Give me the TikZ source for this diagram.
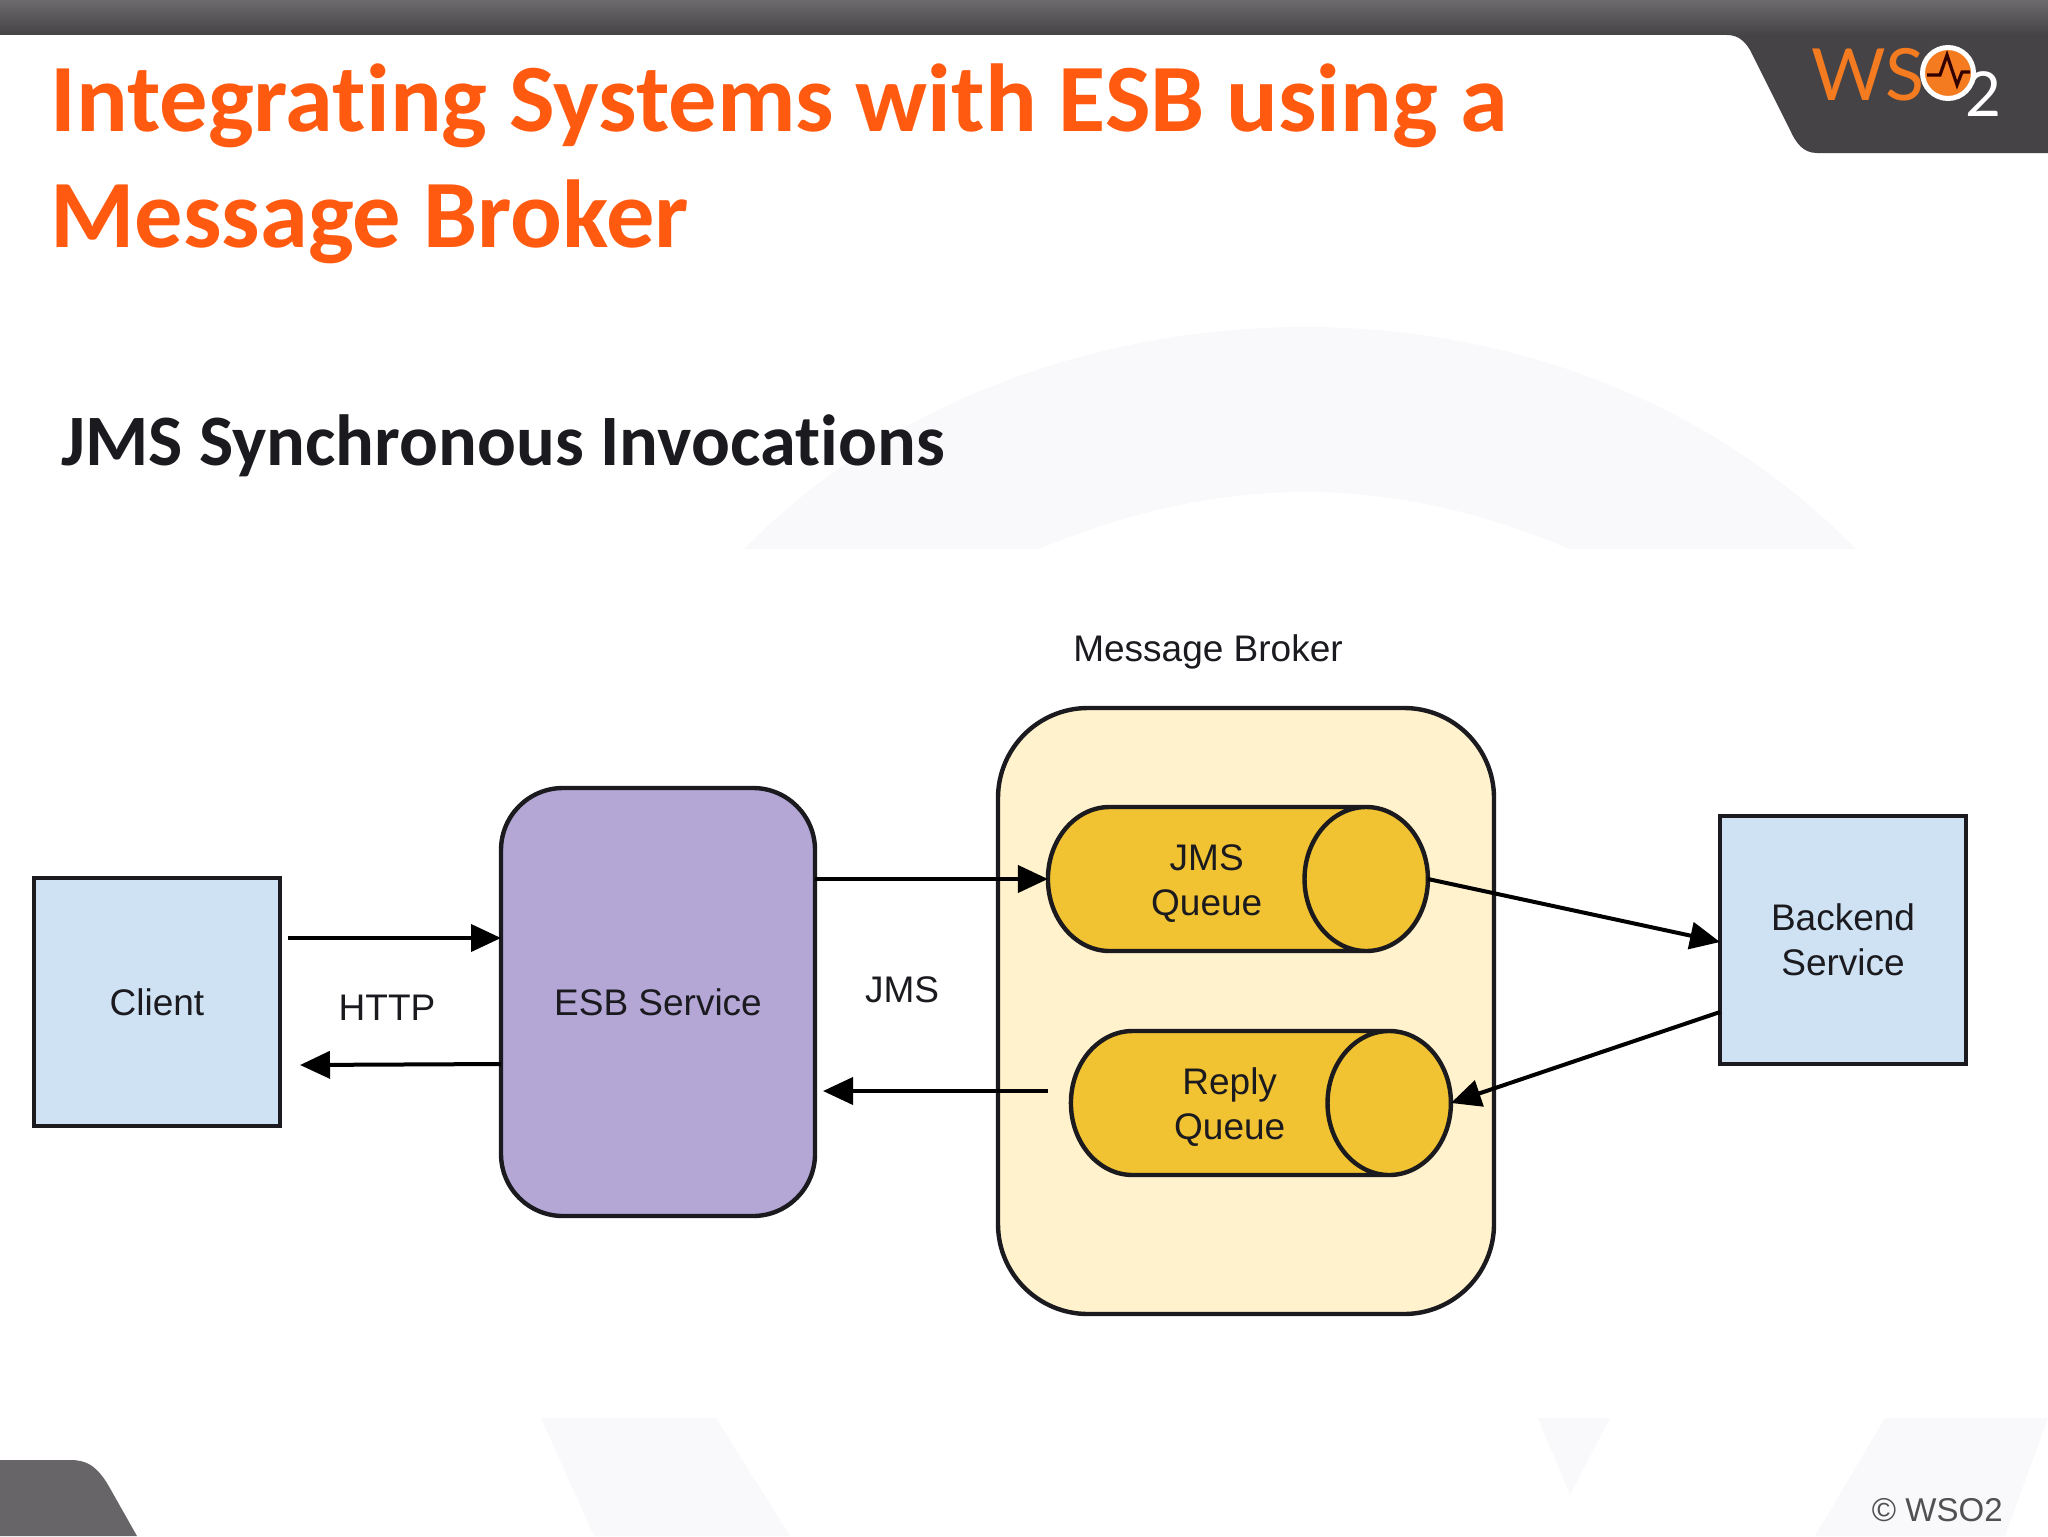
\documentclass[tikz,border=0pt]{standalone}
\usepackage{fontspec}
\setmainfont{Liberation Sans}
\newfontfamily\slidefont[Ligatures=NoCommon]{Carlito}
\newfontfamily\logofont{Lato}
\usetikzlibrary{arrows.meta,shapes.geometric}
\definecolor{barDark}{HTML}{454346}
\definecolor{barTop}{HTML}{6C6A6C}
\definecolor{footGray}{HTML}{676567}
\definecolor{markGray}{HTML}{F9F8FA}
\definecolor{titleOrange}{HTML}{FF5A10}
\definecolor{logoOrange}{HTML}{F47B20}
\definecolor{inkDark}{HTML}{1A1A1F}
\definecolor{boxBlue}{HTML}{CFE2F3}
\definecolor{esbPurple}{HTML}{B4A7D6}
\definecolor{brokerCream}{HTML}{FFF2CC}
\definecolor{queueYellow}{HTML}{F1C232}
\newcommand{\queuetext}[2]{\rule{0pt}{17.5pt}\hspace*{13.7pt}#1\\\hspace*{13.7pt}#2}
\tikzset{
    lineblock/.style={draw=inkDark, line width=2.2pt, outer sep=0pt, align=center, font=\fontsize{18.5}{22.5}\selectfont, text=inkDark},
    service/.style={lineblock, rectangle, fill=boxBlue, minimum width=123pt, minimum height=124pt},
    rounded/.style={lineblock, rectangle, rounded corners=#1},
    queue/.style={lineblock, cylinder, aspect=1.23, cylinder uses custom fill,
        cylinder body fill=queueYellow, cylinder end fill=queueYellow,
        minimum width=72pt, minimum height=190pt},
    flow/.style={draw=black, line width=2pt, -{Triangle[length=15pt, width=13.5pt]}},
    tag/.style={text=inkDark, font=\fontsize{18.5}{22.5}\selectfont},
}
\begin{document}
\begin{tikzpicture}[x=0.5pt, y=-0.5pt]
    \useasboundingbox (0,0) rectangle (2048,1536);
    % Watermark
    \fill [markGray] (744,549) .. controls (890,400) and (1100,327) .. (1306,327)
        .. controls (1510,327) and (1710,400) .. (1856,549) -- (1569,549)
        .. controls (1490,515) and (1400,492) .. (1306,492)
        .. controls (1210,492) and (1120,515) .. (1039,549) -- cycle;
    \fill [markGray] (541,1418) -- (716,1418) -- (790,1536) -- (594,1536) -- cycle;
    \fill [markGray] (1538,1418) -- (1610,1418) -- (1570,1495) -- cycle;
    \fill [markGray] (1885,1418) -- (2048,1418) -- (2005,1536) -- (1815,1536) -- cycle;
    % Slide frame
    \fill [barDark] (0,0) -- (2048,0) -- (2048,153) -- (1817,153)
        .. controls (1803,153) and (1796,143) .. (1790,130) -- (1750,50)
        .. controls (1744,40) and (1737,35) .. (1727,35) -- (0,35) -- cycle;
    \shade [top color=barTop, bottom color=barDark] (0,0) rectangle (2048,35);
    \fill [footGray] (0,1460) -- (70,1460) .. controls (85,1460) and (97,1464) .. (111,1490)
        -- (137,1536) -- (0,1536) -- cycle;
    % Logo
    \node [anchor=base west, inner sep=0pt, text=logoOrange, font=\logofont\fontsize{36}{36}\selectfont] (logoWS) at (1811,100) {WS};
    \node [anchor=base, inner sep=0pt, text=white, font=\logofont\fontsize{31}{31}\selectfont] (logoTwo) at (1983,117) {2};
    \node [circle, draw=white, line width=2.5pt, fill=logoOrange, minimum size=25.5pt, inner sep=0pt] (logoDot) at (1948,73) {};
    \draw [line width=1.6pt, black!80!red] (1927,75) -- (1940,75) -- (1947,55) -- (1957,85) -- (1962,72) -- (1970,72);
    % Titles
    \node [anchor=base west, inner sep=0pt, text=titleOrange, font=\slidefont\bfseries\fontsize{48.27}{48.27}\selectfont] (titleOne) at (50,132) {Integrating Systems with ESB using a};
    \node [anchor=base west, inner sep=0pt, text=titleOrange, font=\slidefont\bfseries\fontsize{48.27}{48.27}\selectfont] (titleTwo) at (50,247) {Message Broker};
    \node [anchor=base west, inner sep=0pt, text=inkDark, font=\slidefont\bfseries\fontsize{36.2}{36.2}\selectfont] (subTitle) at (61,465) {JMS Synchronous Invocations};
    \node [anchor=base east, inner sep=0pt, text=footGray!80!black, font=\fontsize{16.5}{17}\selectfont] (footNote) at (2003,1521) {© WSO2};
    % Boxes
    \node [service] (client) at (157,1002) {Client};
    \node [service] (backend) at (1843,940) {Backend\\Service};
    \node [rounded=31pt, fill=esbPurple, minimum width=157pt, minimum height=214pt] (esb) at (658,1002) {ESB Service};
    \node [rounded=45pt, fill=brokerCream, minimum width=248pt, minimum height=303pt] (broker) at (1246,1011) {};
    \node [tag] (brokerTag) at (1208,652) {Message Broker};
    % Queues
    \node [queue] (jms) at (1193,879) {\queuetext{JMS}{Queue}};
    \node [queue] (reply) at (1216,1103) {\queuetext{Reply}{Queue}};
    % Flows
    \draw [flow] ([xshift=4pt, yshift=32pt]client.east) -- ([yshift=32pt]client.east -| esb.west);
    \draw [flow] ([yshift=-31pt]esb.west) -- ([xshift=10pt, yshift=-31.5pt]client.east);
    \draw [flow] (jms.west -| esb.east) -- (jms.west);
    \draw [flow] ([yshift=6pt]reply.west -| jms.west) -- ([xshift=4pt, yshift=6pt]reply.west -| esb.east);
    \draw [flow] (jms.east) -- ([yshift=-1pt]backend.west);
    \draw [flow] ([yshift=-36pt]backend.west) -- (reply.east);
    % Labels
    \node [tag] (httpTag) at (387,1008) {HTTP};
    \node [tag] (jmsTag) at (902,990) {JMS};
\end{tikzpicture}
\end{document}
